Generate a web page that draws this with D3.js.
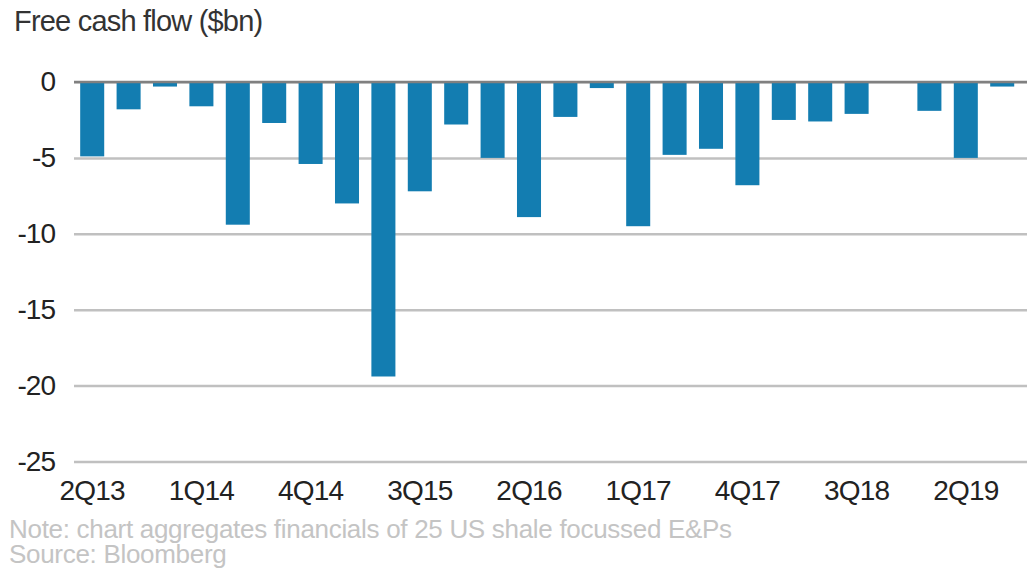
<!DOCTYPE html>
<html>
<head>
<meta charset="utf-8">
<script src="https://d3js.org/d3.v7.min.js"></script>
<style>
  body { margin: 0; background: #fff; }
  text { font-family: "Liberation Sans", Arial, sans-serif; }
</style>
</head>
<body>
<script>
// Quarters and free cash flow ($bn)
var quarters = ["2Q13", "3Q13", "4Q13", "1Q14", "2Q14", "3Q14", "4Q14", "1Q15", "2Q15",
  "3Q15", "4Q15", "1Q16", "2Q16", "3Q16", "4Q16", "1Q17", "2Q17", "3Q17", "4Q17",
  "1Q18", "2Q18", "3Q18", "4Q18", "1Q19", "2Q19", "3Q19"];
var cashFlow = [-4.9, -1.8, -0.3, -1.6, -9.4, -2.7, -5.4, -8.0, -19.4,
  -7.2, -2.8, -5.0, -8.9, -2.3, -0.4, -9.5, -4.8, -4.4, -6.8,
  -2.5, -2.6, -2.1, 0, -1.9, -5.0, -0.3];
var yTicks = [0, -5, -10, -15, -20, -25];
var xLabels = ["2Q13", "1Q14", "4Q14", "3Q15", "2Q16", "1Q17", "4Q17", "3Q18", "2Q19"];

var svgWidth = 1027;
var svgHeight = 575;

var plotLeft = 74;
var plotRight = 1020.4;
var zeroY = 82;
var bottomY = 461.5;

var svg = d3.select("body")
  .append("svg")
  .attr("width", svgWidth)
  .attr("height", svgHeight);

var xBandScale = d3.scaleBand()
  .domain(quarters)
  .range([plotLeft, plotRight])
  .paddingInner(0.34)
  .paddingOuter(0.17);

var yLinearScale = d3.scaleLinear()
  .domain([-25, 0])
  .range([bottomY, zeroY]);

// Gridlines + y labels
var leftAxis = d3.axisLeft(yLinearScale)
  .tickValues(yTicks)
  .tickSizeInner(-(svgWidth - plotLeft))
  .tickSizeOuter(0)
  .tickPadding(19)
  .tickFormat(d => d === 0 ? "0" : "-" + Math.abs(d));

var yAxisGroup = svg.append("g")
  .attr("transform", `translate(${plotLeft}, 0)`)
  .call(leftAxis);

yAxisGroup.select(".domain").remove();
yAxisGroup.selectAll(".tick line")
  .attr("stroke", "#c0c0c0")
  .attr("stroke-width", 2.5);
yAxisGroup.selectAll(".tick text")
  .attr("fill", "#222")
  .style("font-size", "28px")
  .style("letter-spacing", "-1px");

// Bars
svg.append("g")
  .selectAll("rect")
  .data(cashFlow)
  .enter()
  .append("rect")
  .attr("x", (d, i) => xBandScale(quarters[i]))
  .attr("y", yLinearScale(0))
  .attr("width", xBandScale.bandwidth())
  .attr("height", d => yLinearScale(d) - yLinearScale(0))
  .attr("fill", "#137db1");

// Zero line on top
svg.append("line")
  .attr("x1", plotLeft)
  .attr("x2", svgWidth)
  .attr("y1", yLinearScale(0))
  .attr("y2", yLinearScale(0))
  .attr("stroke", "#808080")
  .attr("stroke-width", 2.7);

// x labels
var bottomAxis = d3.axisBottom(xBandScale)
  .tickValues(xLabels)
  .tickSize(0)
  .tickPadding(19);

var xAxisGroup = svg.append("g")
  .attr("transform", `translate(0, ${bottomY})`)
  .call(bottomAxis);

xAxisGroup.select(".domain").remove();
xAxisGroup.selectAll(".tick text")
  .attr("fill", "#222")
  .style("font-size", "28px")
  .style("letter-spacing", "-0.8px");

// Title
svg.append("text")
  .attr("x", 14)
  .attr("y", 31)
  .attr("fill", "#333")
  .style("font-size", "29px")
  .style("letter-spacing", "-0.8px")
  .text("Free cash flow ($bn)");

// Notes
svg.append("text")
  .attr("x", 9)
  .attr("y", 538)
  .attr("fill", "#c4c4c4")
  .style("font-size", "26px")
  .style("letter-spacing", "-0.3px")
  .text("Note: chart aggregates financials of 25 US shale focussed E&Ps");

svg.append("text")
  .attr("x", 9)
  .attr("y", 563)
  .attr("fill", "#c4c4c4")
  .style("font-size", "26px")
  .style("letter-spacing", "-0.3px")
  .text("Source: Bloomberg");
</script>
</body>
</html>
